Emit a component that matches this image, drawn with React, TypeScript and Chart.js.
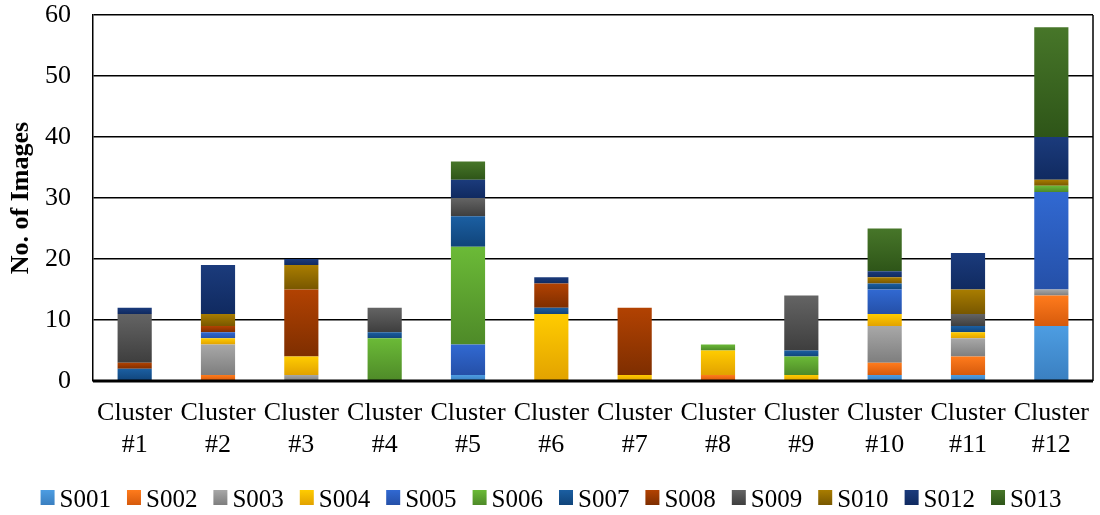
import React, { useEffect, useRef } from "react";
import { Chart, registerables } from "chart.js";

Chart.register(...registerables);

const clusters = ["#1", "#2", "#3", "#4", "#5", "#6", "#7", "#8", "#9", "#10", "#11", "#12"];
const seriesNames = ["S001", "S002", "S003", "S004", "S005", "S006", "S007", "S008", "S009", "S010", "S012", "S013"];

const S001 = [0, 0, 0, 0, 1, 0, 0, 0, 0, 1, 1, 9];
const S002 = [0, 1, 0, 0, 0, 0, 0, 1, 0, 2, 3, 5];
const S003 = [0, 5, 1, 0, 0, 0, 0, 0, 0, 6, 3, 1];
const S004 = [0, 1, 3, 0, 0, 11, 1, 4, 1, 2, 1, 0];
const S005 = [0, 1, 0, 0, 5, 0, 0, 0, 0, 4, 0, 16];
const S006 = [0, 0, 0, 7, 16, 0, 0, 1, 3, 0, 0, 1];
const S007 = [2, 0, 0, 1, 5, 1, 0, 0, 1, 1, 1, 0];
const S008 = [1, 1, 11, 0, 0, 4, 11, 0, 0, 0, 0, 0];
const S009 = [8, 0, 0, 4, 3, 0, 0, 0, 9, 0, 2, 0];
const S010 = [0, 2, 4, 0, 0, 0, 0, 0, 0, 1, 4, 1];
const S012 = [1, 8, 1, 0, 3, 1, 0, 0, 0, 1, 6, 7];
const S013 = [0, 0, 0, 0, 3, 0, 0, 0, 0, 7, 0, 18];

const seriesValues = [S001, S002, S003, S004, S005, S006, S007, S008, S009, S010, S012, S013];
const topColors = ["#4d9de2", "#ff7b1c", "#a8a8a8", "#ffcc00", "#3169d2", "#6bba37", "#1b5fa2", "#b24202", "#646464", "#a97d00", "#1b3b7c", "#477629"];
const bottomColors = ["#3a7fc0", "#d65a0c", "#7e7e7e", "#e2a200", "#2550a8", "#4e8a28", "#10447a", "#7e2e00", "#3e3e3e", "#785700", "#102a60", "#2e5518"];

const yTicks = [0, 10, 20, 30, 40, 50, 60];

const FONT = "'Liberation Serif', 'Times New Roman', serif";

export default function App() {
  const ref = useRef<HTMLCanvasElement | null>(null);
  useEffect(() => {
    if (!ref.current) return;
    const frame = {
      id: "frame",
      afterDraw(chart: any) {
        const { ctx, chartArea } = chart;
        ctx.save();
        ctx.strokeStyle = "#000";
        ctx.lineWidth = 1.5;
        ctx.beginPath();
        ctx.moveTo(chartArea.right, chartArea.top);
        ctx.lineTo(chartArea.right, chartArea.bottom);
        ctx.stroke();
        ctx.lineWidth = 3;
        ctx.beginPath();
        ctx.moveTo(chartArea.left, chartArea.bottom);
        ctx.lineTo(chartArea.right, chartArea.bottom);
        ctx.stroke();
        ctx.restore();
      },
    };
    const legendRow = {
      id: "legendRow",
      afterDraw(chart: any) {
        const ctx = chart.ctx;
        ctx.save();
        ctx.font = `25px ${FONT}`;
        const boxW = 14, boxH = 15, gap = 5, spacing = 16;
        const widths = seriesNames.map((n) => ctx.measureText(n).width);
        const total = widths.reduce((a, w) => a + boxW + gap + w, 0) + spacing * (seriesNames.length - 1);
        let x = 551 - total / 2;
        const boxTop = 490;
        const baseline = 507;
        seriesNames.forEach((n, i) => {
          const g = ctx.createLinearGradient(0, boxTop, 0, boxTop + boxH);
          g.addColorStop(0, topColors[i]);
          g.addColorStop(1, bottomColors[i]);
          ctx.fillStyle = g;
          ctx.fillRect(x, boxTop, boxW, boxH);
          ctx.fillStyle = "#000";
          ctx.textBaseline = "alphabetic";
          ctx.textAlign = "left";
          ctx.fillText(n, x + boxW + gap, baseline);
          x += boxW + gap + widths[i] + spacing;
        });
        ctx.restore();
      },
    };
    const datasets = seriesNames.map((name, si) => ({
      label: name,
      data: seriesValues[si],
      borderWidth: 0,
      barPercentage: 0.82,
      categoryPercentage: 0.5,
      backgroundColor: (c: any) => {
        const chart = c.chart;
        if (c.type !== "data" || !chart.chartArea || !chart.scales.y) return topColors[si];
        const i = c.dataIndex;
        let base = 0;
        for (let k = 0; k < si; k++) base += seriesValues[k][i];
        const top = base + seriesValues[si][i];
        const y = chart.scales.y;
        const y0 = y.getPixelForValue(top);
        const y1 = y.getPixelForValue(base);
        if (!isFinite(y0) || !isFinite(y1) || y0 === y1) return topColors[si];
        const g = chart.ctx.createLinearGradient(0, y0, 0, y1);
        g.addColorStop(0, topColors[si]);
        g.addColorStop(1, bottomColors[si]);
        return g;
      },
    }));
    const chart = new Chart(ref.current, {
      type: "bar",
      data: { labels: clusters.map((c) => ["Cluster", c]), datasets },
      options: {
        animation: false,
        responsive: false,
        maintainAspectRatio: false,
        layout: { padding: { left: 6, right: 7, top: 0, bottom: 50 } },
        plugins: {
          legend: { display: false },
          tooltip: { enabled: false },
        },
        scales: {
          x: {
            stacked: true,
            grid: { display: false },
            border: { display: false },
            afterFit: (s: any) => {
              s.height = 84;
            },
            ticks: {
              color: "#000",
              font: { family: FONT, size: 26, lineHeight: 1.2 },
              maxRotation: 0,
              autoSkip: false,
              padding: 9,
            },
          },
          y: {
            stacked: true,
            min: 0,
            max: 60,
            afterBuildTicks: (s: any) => {
              s.ticks = yTicks.map((v) => ({ value: v }));
            },
            afterFit: (s: any) => {
              s.width = 87;
              s.paddingTop = 15;
              s.paddingBottom = 0;
            },
            grid: { color: "#000", lineWidth: 1.5, drawTicks: false },
            border: { display: true, color: "#000", width: 1.5 },
            ticks: { color: "#000", font: { family: FONT, size: 26 }, padding: 22 },
            title: {
              display: true,
              text: "No. of Images",
              color: "#000",
              font: { family: FONT, size: 26, weight: "bold" },
              padding: { top: 0, bottom: 8 },
            },
          },
        },
      },
      plugins: [frame, legendRow],
    } as any);
    return () => chart.destroy();
  }, []);
  return (
    <div style={{ position: "absolute", left: 0, top: 0, width: 1100, height: 515 }}>
      <canvas ref={ref} width={1100} height={515} style={{ width: 1100, height: 515 }} />
    </div>
  );
}
